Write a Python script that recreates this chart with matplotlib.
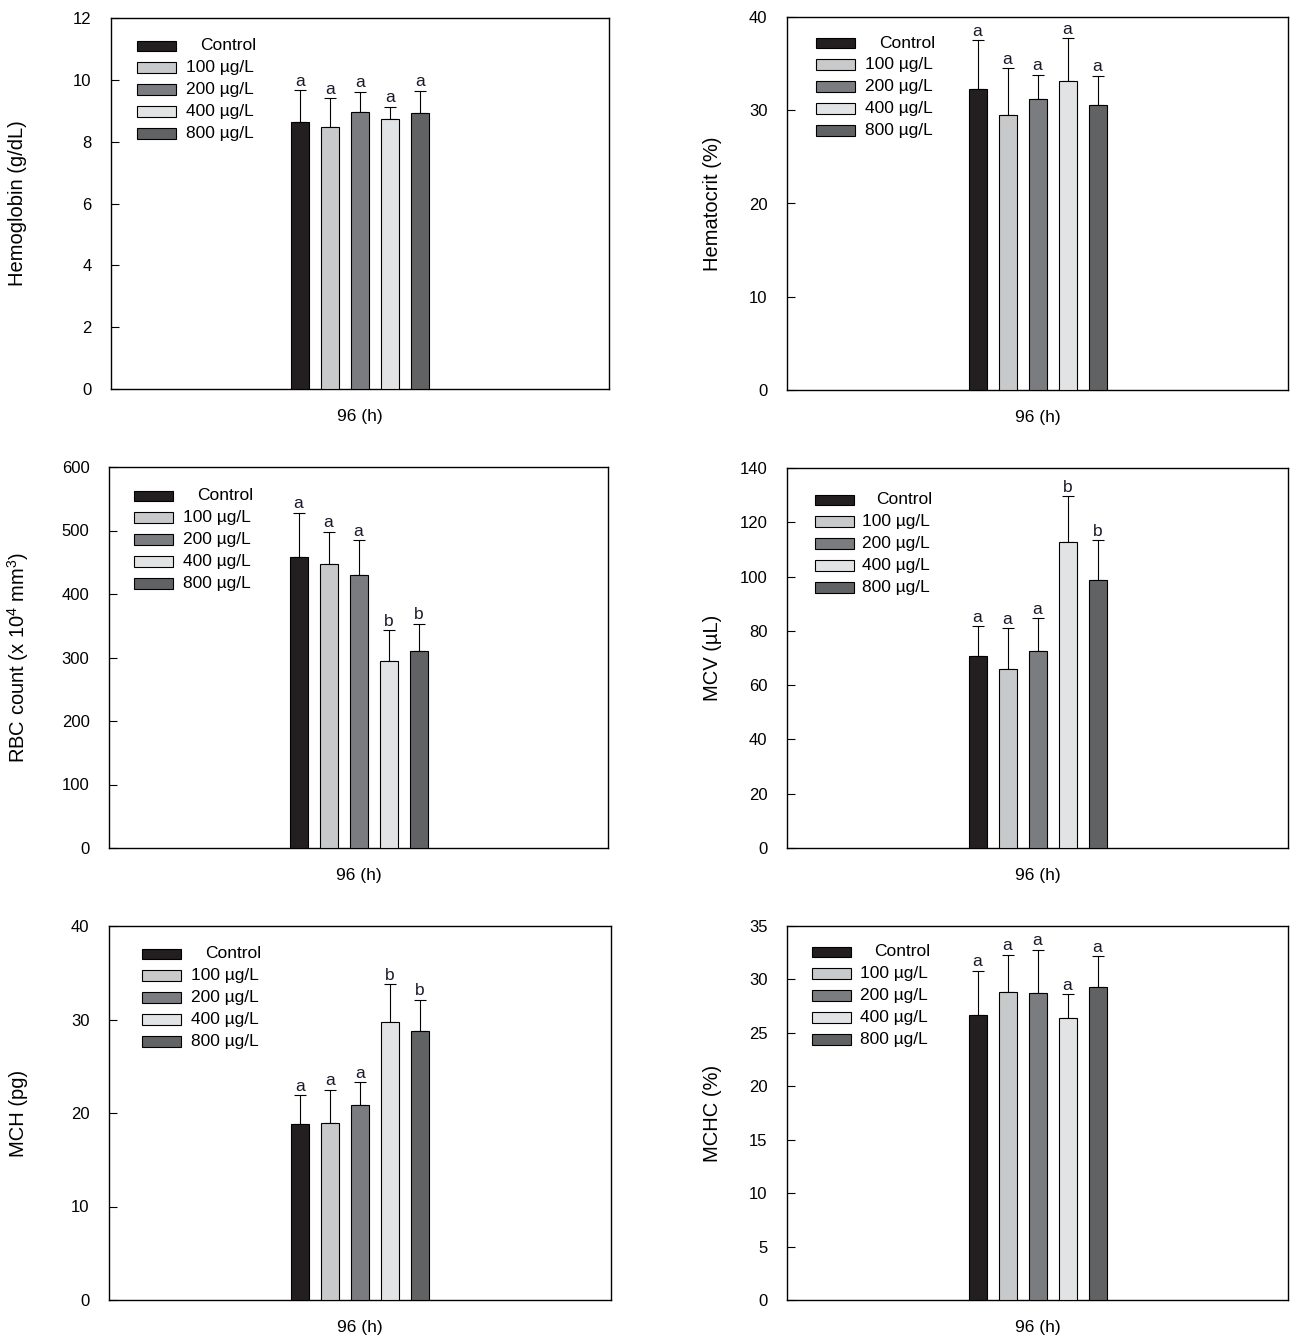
import matplotlib
matplotlib.use("Agg")
import matplotlib.pyplot as plt
from matplotlib.patches import Rectangle

plt.rcParams['font.family'] = ['Liberation Sans', 'DejaVu Sans']
plt.rcParams['mathtext.fontset'] = 'custom'
plt.rcParams['mathtext.rm'] = 'Liberation Sans'

W, H = 1298, 1344

groups = ["Control", "100 µg/L", "200 µg/L", "400 µg/L", "800 µg/L"]
colors = ["#231f20", "#c8c9ca", "#7b7c7f", "#e2e3e4", "#616264"]
xlabel = "96 (h)"

hb_mean = [8.64, 8.47, 8.95, 8.72, 8.92]
hb_sd = [1.03, 0.93, 0.67, 0.41, 0.73]
hb_sig = ["a", "a", "a", "a", "a"]

hct_mean = [32.3, 29.5, 31.2, 33.1, 30.6]
hct_sd = [5.2, 5.0, 2.6, 4.6, 3.1]
hct_sig = ["a", "a", "a", "a", "a"]

rbc_mean = [458, 447, 430, 294, 310]
rbc_sd = [70, 51, 55, 49, 43]
rbc_sig = ["a", "a", "a", "b", "b"]

mcv_mean = [70.7, 65.8, 72.5, 112.7, 98.7]
mcv_sd = [11.1, 15.1, 12.1, 17.0, 14.7]
mcv_sig = ["a", "a", "a", "b", "b"]

mch_mean = [18.8, 18.9, 20.9, 29.7, 28.8]
mch_sd = [3.1, 3.6, 2.4, 4.1, 3.3]
mch_sig = ["a", "a", "a", "b", "b"]

mchc_mean = [26.7, 28.8, 28.7, 26.4, 29.3]
mchc_sd = [4.1, 3.5, 4.1, 2.2, 2.9]
mchc_sig = ["a", "a", "a", "a", "a"]

panels = [
    dict(box=(111, 18, 609, 389), mean=hb_mean, sd=hb_sd, sig=hb_sig, ylim=12, step=2,
         ylabel="Hemoglobin (g/dL)", lab_x=18, leg=(137, 46, 186)),
    dict(box=(787, 17, 1288, 390), mean=hct_mean, sd=hct_sd, sig=hct_sig, ylim=40, step=10,
         ylabel="Hematocrit (%)", lab_x=713, leg=(816, 43, 865)),
    dict(box=(109, 467, 608, 848), mean=rbc_mean, sd=rbc_sd, sig=rbc_sig, ylim=600, step=100,
         ylabel=r"RBC count (x 10$^\mathregular{4}$ mm$^\mathregular{3}$)", lab_x=18, leg=(134, 496, 183)),
    dict(box=(787, 468, 1288, 848), mean=mcv_mean, sd=mcv_sd, sig=mcv_sig, ylim=140, step=20,
         ylabel="MCV (µL)", lab_x=713, leg=(815, 500, 862)),
    dict(box=(109, 926, 611, 1300), mean=mch_mean, sd=mch_sd, sig=mch_sig, ylim=40, step=10,
         ylabel="MCH (pg)", lab_x=18, leg=(142, 954, 191)),
    dict(box=(787, 926, 1288, 1300), mean=mchc_mean, sd=mchc_sd, sig=mchc_sig, ylim=35, step=5,
         ylabel="MCHC (%)", lab_x=713, leg=(812, 952, 860)),
]

fig = plt.figure(figsize=(W / 100, H / 100), dpi=100)

for p in panels:
    l, t, r, b = p["box"]
    ax = fig.add_axes([l / W, 1 - b / H, (r - l) / W, (b - t) / H])
    wpx = r - l
    half = (wpx / 2) / 30.0
    xs = [i - 2 for i in range(len(groups))]
    ax.bar(xs, p["mean"], width=0.6, color=colors, edgecolor="black", linewidth=0.8, zorder=3)
    ax.errorbar(xs, p["mean"], yerr=[[0] * len(xs), p["sd"]], fmt="none", ecolor="black",
                elinewidth=0.8, capsize=4.3, capthick=0.8, zorder=2)
    for x, m, s, g in zip(xs, p["mean"], p["sd"], p["sig"]):
        ax.annotate(g, (x, m + s), xytext=(0, 1), textcoords="offset points",
                    ha="center", va="bottom", fontsize=12.5, color="#1a1a2a")
    ax.set_xlim(-half, half)
    ax.set_ylim(0, p["ylim"])
    ax.set_yticks(range(0, p["ylim"] + 1, p["step"]))
    ax.set_xticks([])
    ax.tick_params(axis="y", direction="in", length=6, width=0.8, pad=14, labelsize=12)
    for sp in ax.spines.values():
        sp.set_linewidth(1.0)
    ax.set_xlabel(xlabel, fontsize=12.5, labelpad=14.5)
    ax.set_ylabel(p["ylabel"], fontsize=14.5, va="center")
    ax.yaxis.set_label_coords((p["lab_x"] - l) / wpx, 0.5)

    # legend (manual, in pixel layout)
    px, py, tx = p["leg"]
    for i, (g, c) in enumerate(zip(groups, colors)):
        yy = py + i * 21.9
        rect = Rectangle((px / W, 1 - (yy + 5) / H), 39 / W, 10.5 / H, transform=fig.transFigure,
                         facecolor=c, edgecolor="black", linewidth=0.8)
        fig.patches.append(rect)
        off = 14 if i == 0 else 0
        fig.text((tx + off) / W, 1 - yy / H, g, fontsize=12.5, ha="left", va="center")

fig.savefig("out.png", dpi=100)
